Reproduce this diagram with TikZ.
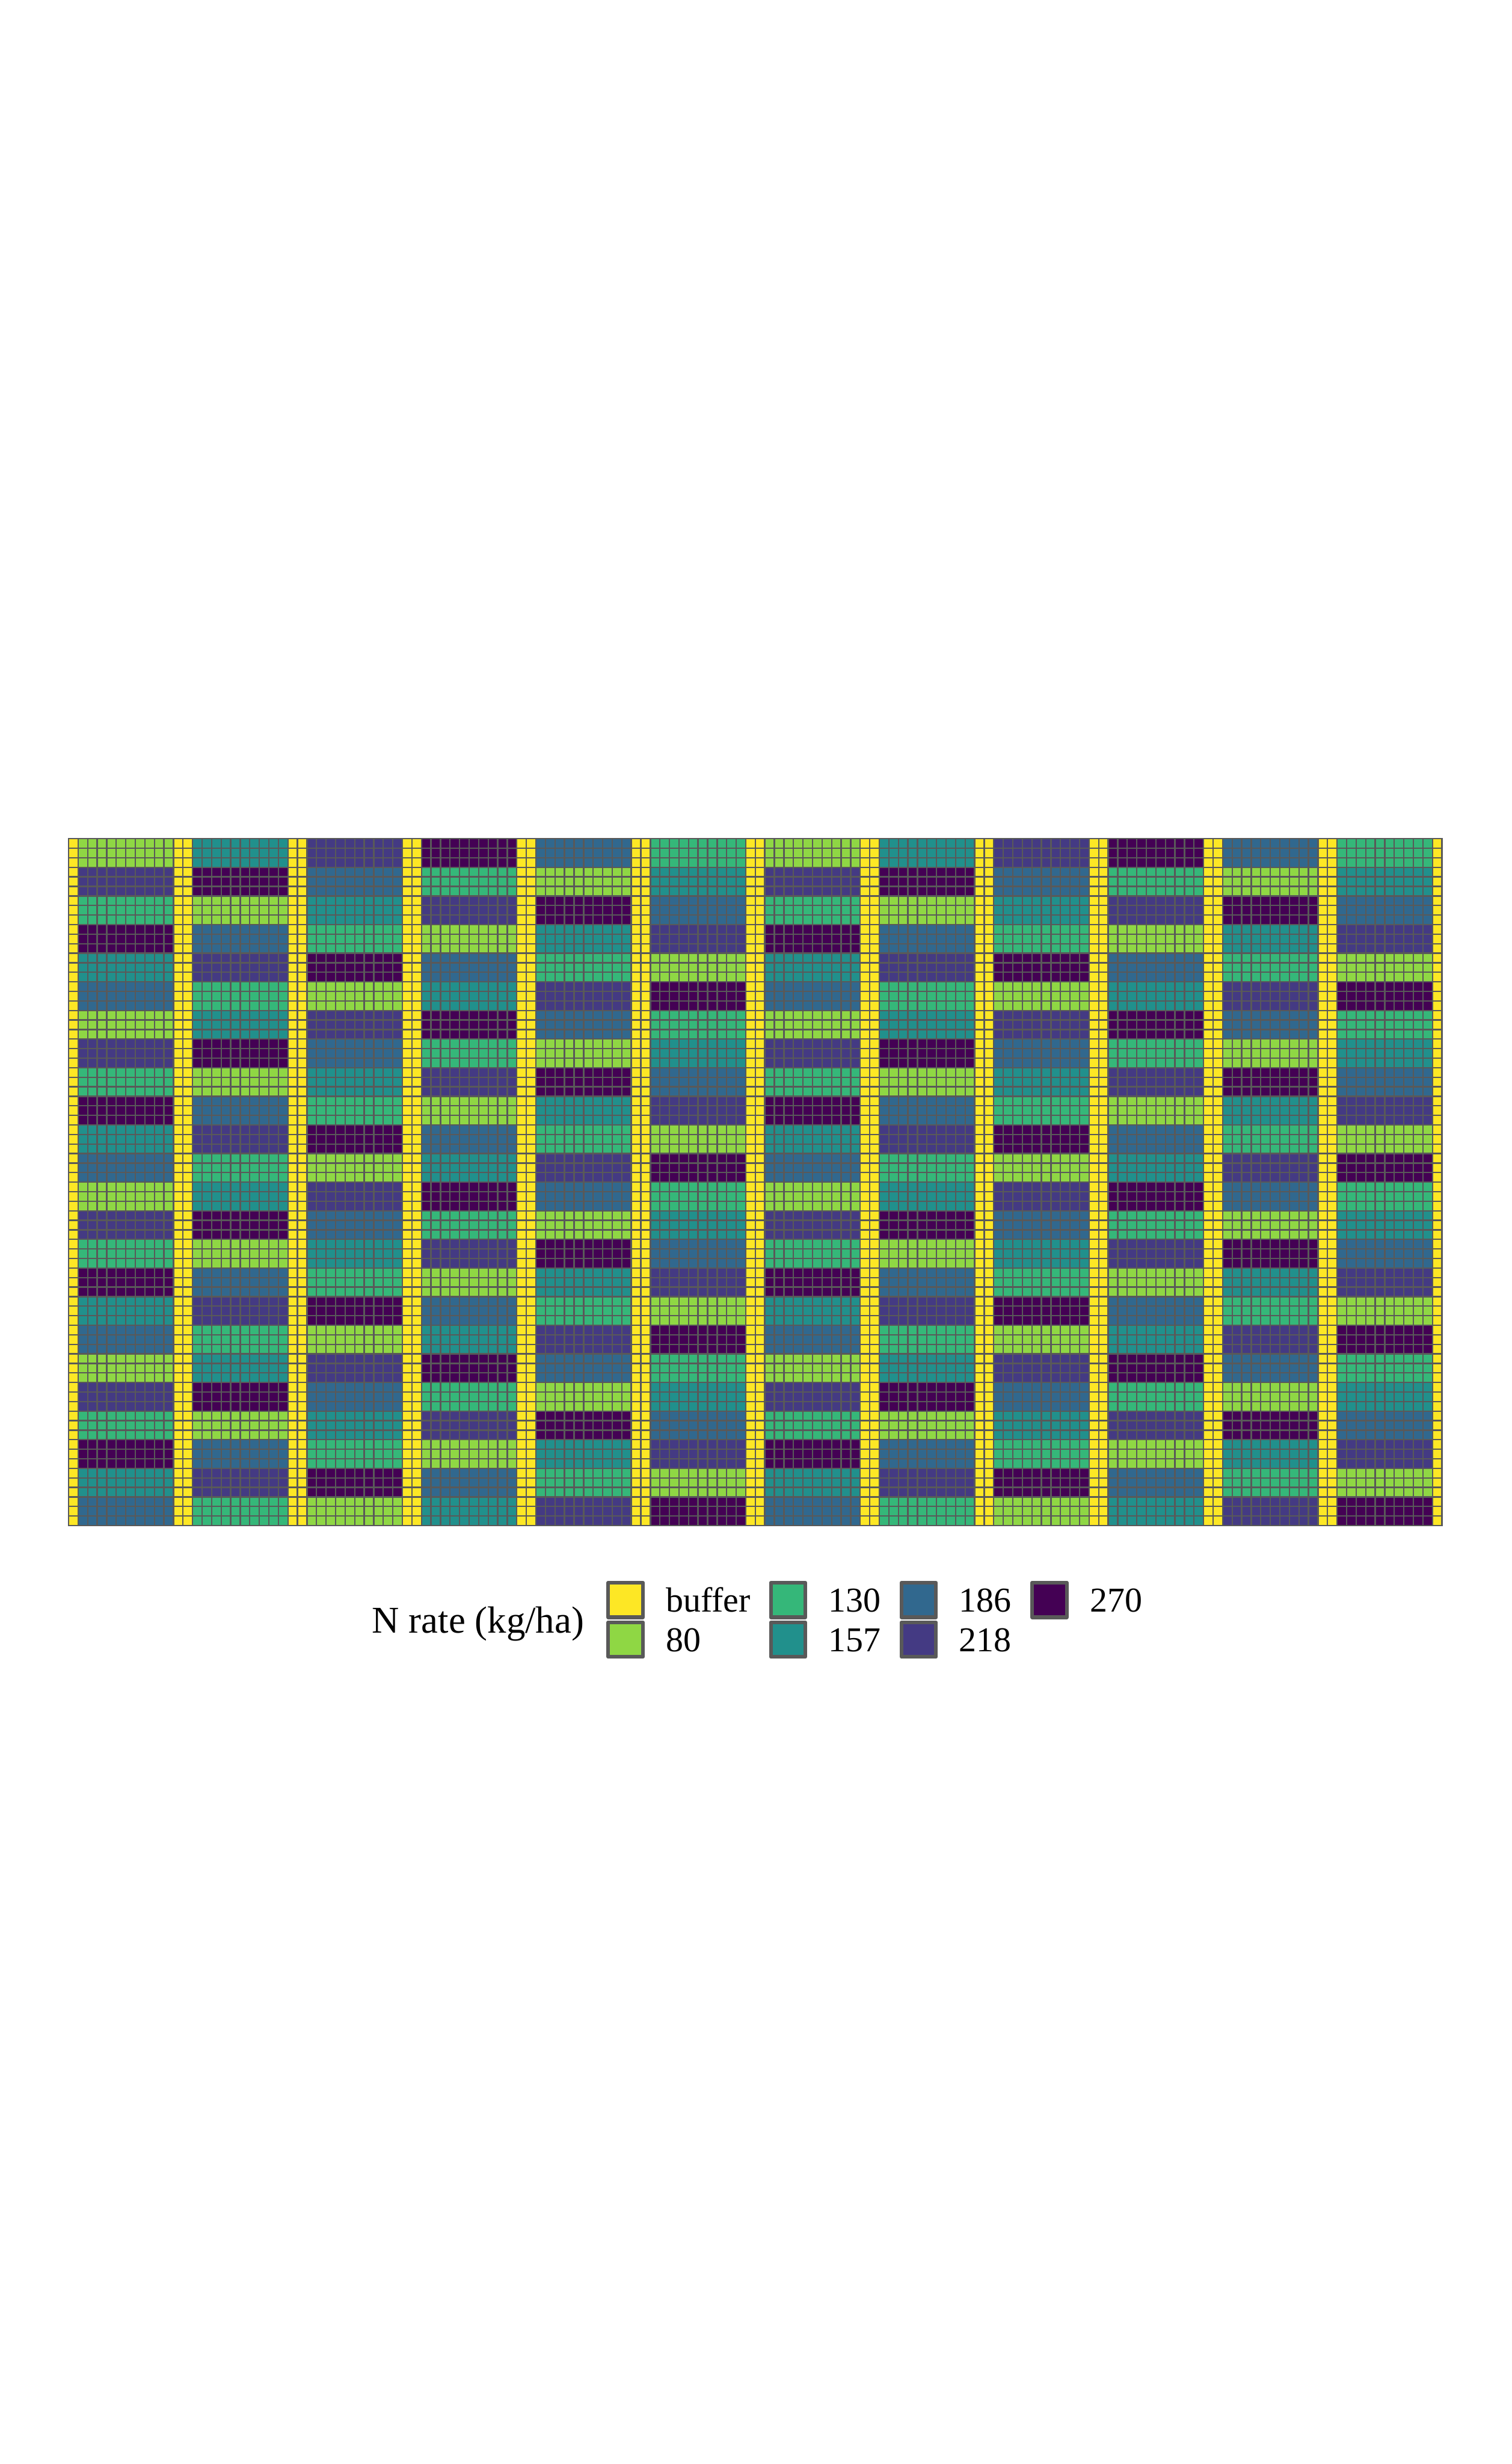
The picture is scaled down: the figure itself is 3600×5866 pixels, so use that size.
\documentclass[tikz,border=0pt]{standalone}
\usepackage{fontspec}
\setmainfont{Liberation Serif}
\definecolor{vbuf}{HTML}{FDE725}
\definecolor{v80}{HTML}{8FD744}
\definecolor{v130}{HTML}{35B779}
\definecolor{v157}{HTML}{21908C}
\definecolor{v186}{HTML}{31688E}
\definecolor{v218}{HTML}{443A83}
\definecolor{v270}{HTML}{440154}
\definecolor{gridgray}{HTML}{595959}
\def\pat{{80,157,218,270,186,130,218,270,186,130,80,157,130,80,157,218,270,186,270,186,130,80,157,218,157,218,270,186,130,80,186,130,80,157,218,270}}
\begin{document}
\begin{tikzpicture}[x=0.1pt,y=-0.1pt,
  gridline/.style={draw=gridgray,line width=0.33pt,line cap=rect},
  keybox/.style={draw=gridgray,line width=0.87pt,line join=round},
  lbl/.style={anchor=base west,inner sep=0pt,font=\fontsize{8.3}{10}\selectfont},
  ttl/.style={anchor=base west,inner sep=0pt,font=\fontsize{9}{11}\selectfont}]
\fill[white] (0,0) rectangle (3600,5866);
\useasboundingbox (0,0) rectangle (3600,5866);
\def\gx{163.3}
\def\gy{1996.7}
\def\p{22.71}
% buffer background
\fill[vbuf] (\gx,\gy) rectangle ({\gx+144*\p},{\gy+72*\p});
% plots
\foreach \k in {0,...,11}{
  \foreach \r in {0,...,23}{
    \pgfmathtruncatemacro\v{\pat[6*mod(\r,6)+mod(\k,6)]}
    \fill[v\v] ({\gx+(1+12*\k)*\p},{\gy+3*\r*\p}) rectangle ({\gx+(11+12*\k)*\p},{\gy+(3*\r+3)*\p});
  }
}
% cell borders
\foreach \i in {0,...,144}
  \draw[gridline] ({\gx+\i*\p},\gy) -- ({\gx+\i*\p},{\gy+72*\p});
\foreach \j in {0,...,72}
  \draw[gridline] (\gx,{\gy+\j*\p}) -- ({\gx+144*\p},{\gy+\j*\p});
% legend
\node[ttl] (title) at (884,3887) {N rate (kg/ha)};
\foreach \L/\ca/\ta/\cb/\tb/\n in {1444/vbuf/buffer/v80/80/a,1831/v130/130/v157/157/b,2142/v186/186/v218/218/c}{
  \draw[keybox,fill=\ca] ({\L+4.35},3767.65) rectangle ({\L+86.95},3850.25);
  \draw[keybox,fill=\cb] ({\L+4.35},3862.05) rectangle ({\L+86.95},3944.65);
  \node[lbl] (lab\n1) at ({\L+140},3836.7) {\ta};
  \node[lbl] (lab\n2) at ({\L+140},3931.7) {\tb};
}
\draw[keybox,fill=v270] ({2453.3+4.35},3767.65) rectangle ({2453.3+86.95},3850.25);
\node[lbl] (labd1) at ({2453.3+140},3836.7) {270};
\end{tikzpicture}
\end{document}
